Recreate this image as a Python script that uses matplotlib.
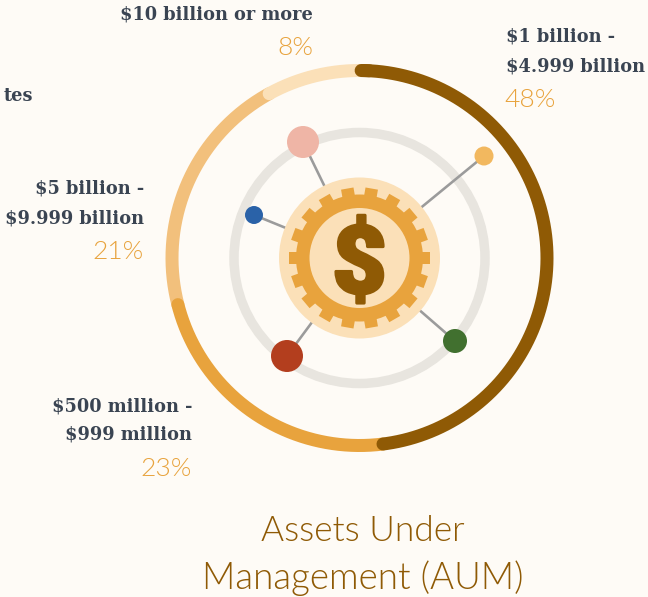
"""Assets Under Management ring chart, drawn in pixel coordinates."""
import numpy as np
import matplotlib; matplotlib.use('Agg')
import matplotlib.pyplot as plt
import matplotlib.patheffects as pe
from matplotlib.patches import Circle, Polygon

BG = '#FEFBF6'; DARK = '#8F5A05'; ORANGE = '#E8A33D'; MID = '#F2C07C'; PALE = '#FBE0B8'
INK = '#3A4452'; GREY_RING = '#E8E5DF'; LINK = '#9B9B9B'

# shares clockwise from the top
shares = [48, 23, 21, 8]
share_colors = [DARK, ORANGE, MID, PALE]
label_lines = [['$1 billion -', '$4.999 billion'], ['$500 million -', '$999 million'],
               ['$5 billion -', '$9.999 billion'], ['$10 billion or more']]
pct_labels = ['48%', '23%', '21%', '8%']
label_x = [506, 192, 144, 313]
label_y = [42, 411, 194, 19]  # baseline of the first line
label_ha = ['left', 'right', 'right', 'right']

# small nodes on the middle ring
node_x = [303, 484, 254, 287, 455]
node_y = [142, 156, 215, 356, 341]
node_r = [16, 9.5, 9, 16, 12]
node_colors = ['#EFB5A6', '#F2B85F', '#2A62A8', '#B33E1E', '#41702F']

CX, CY = 359.5, 258
R_OUT = 187.5; W_OUT = 13
SLAB = ['DejaVu Serif']; THIN = ['Lato', 'DejaVu Sans']

fig = plt.figure(figsize=(6.48, 5.97), dpi=100, facecolor=BG)
ax = fig.add_axes([0, 0, 1, 1]); ax.set_xlim(0, 648); ax.set_ylim(597, 0); ax.axis('off')
px = 0.72

def arc(a0, a1, r):
    t = np.radians(np.linspace(a0, a1, 300))
    return CX + r*np.sin(t), CY - r*np.cos(t)

# outer ring: each earlier segment keeps its cap on top of the next one,
# the pale one sits over its neighbour at 331 deg
edges = np.cumsum([0] + shares) * 3.6
order = [2, 1, 0, 3]
for z, i in enumerate(order):
    x, y = arc(edges[i], edges[i+1], R_OUT)
    ax.plot(x, y, color=share_colors[i], lw=W_OUT*px, solid_capstyle='round', zorder=2+z*0.1)
x, y = arc(0.5, 3, R_OUT)
ax.plot(x, y, color=DARK, lw=W_OUT*px, solid_capstyle='round', zorder=2.5)

# middle ring and links
ax.add_patch(Circle((CX, CY), 125.5, fill=False, ec=GREY_RING, lw=9.5*px, zorder=3))
for nx, ny, nr, nc in zip(node_x, node_y, node_r, node_colors):
    ax.plot([nx, CX], [ny, CY], color=LINK, lw=2.6*px, zorder=3.5)
    ax.add_patch(Circle((nx, ny), nr, fc=nc, ec='none', zorder=6))

# gear badge: 18 square teeth with a gap at the top
ax.add_patch(Circle((CX, CY), 80.5, fc=PALE, ec='none', zorder=4))
ax.add_patch(Circle((CX, CY), 63.5, fc=ORANGE, ec='none', zorder=4.2))
for a in np.radians(np.arange(0, 360, 20)):
    u = np.array([np.cos(a), -np.sin(a)]); v = np.array([np.sin(a), np.cos(a)])
    c = np.array([CX, CY])
    ax.add_patch(Polygon([c + 58*u - 6.3*v, c + 70.5*u - 6.3*v, c + 70.5*u + 6.3*v, c + 58*u + 6.3*v],
                         closed=True, fc=ORANGE, ec='none', zorder=4.2))
ax.add_patch(Circle((CX, CY), 50, fc=PALE, ec='none', zorder=4.4))
ax.text(CX, CY+9, '$', family='Roboto', weight=900, style='normal', fontsize=68, color=DARK,
        ha='center', va='center', zorder=5,
        path_effects=[pe.withStroke(linewidth=2.2, foreground=DARK)])

# labels
for lines, pct, lx, ly, ha in zip(label_lines, pct_labels, label_x, label_y, label_ha):
    for k, s in enumerate(lines):
        ax.text(lx, ly + k*29, s, family=SLAB, weight='bold', fontsize=12.8, color=INK,
                ha=ha, va='baseline', zorder=7)
    py = ly + (len(lines)-1)*29 + 36
    tx = 556 if ha == 'left' else lx
    ax.text(tx, py, pct, family=THIN, weight=300, fontsize=19, color=ORANGE,
            ha='right', va='baseline', zorder=7)
ax.text(33, 101, 'tes', family=SLAB, weight='bold', fontsize=12.8, color=INK, ha='right', va='baseline')

ax.text(363, 541, 'Assets Under', family=THIN, weight=300, fontsize=25.4, color=DARK, ha='center', va='baseline')
ax.text(363, 589, 'Management (AUM)', family=THIN, weight=300, fontsize=26.5, color=DARK, ha='center', va='baseline')

fig.savefig('out.png', dpi=100, facecolor=BG)
